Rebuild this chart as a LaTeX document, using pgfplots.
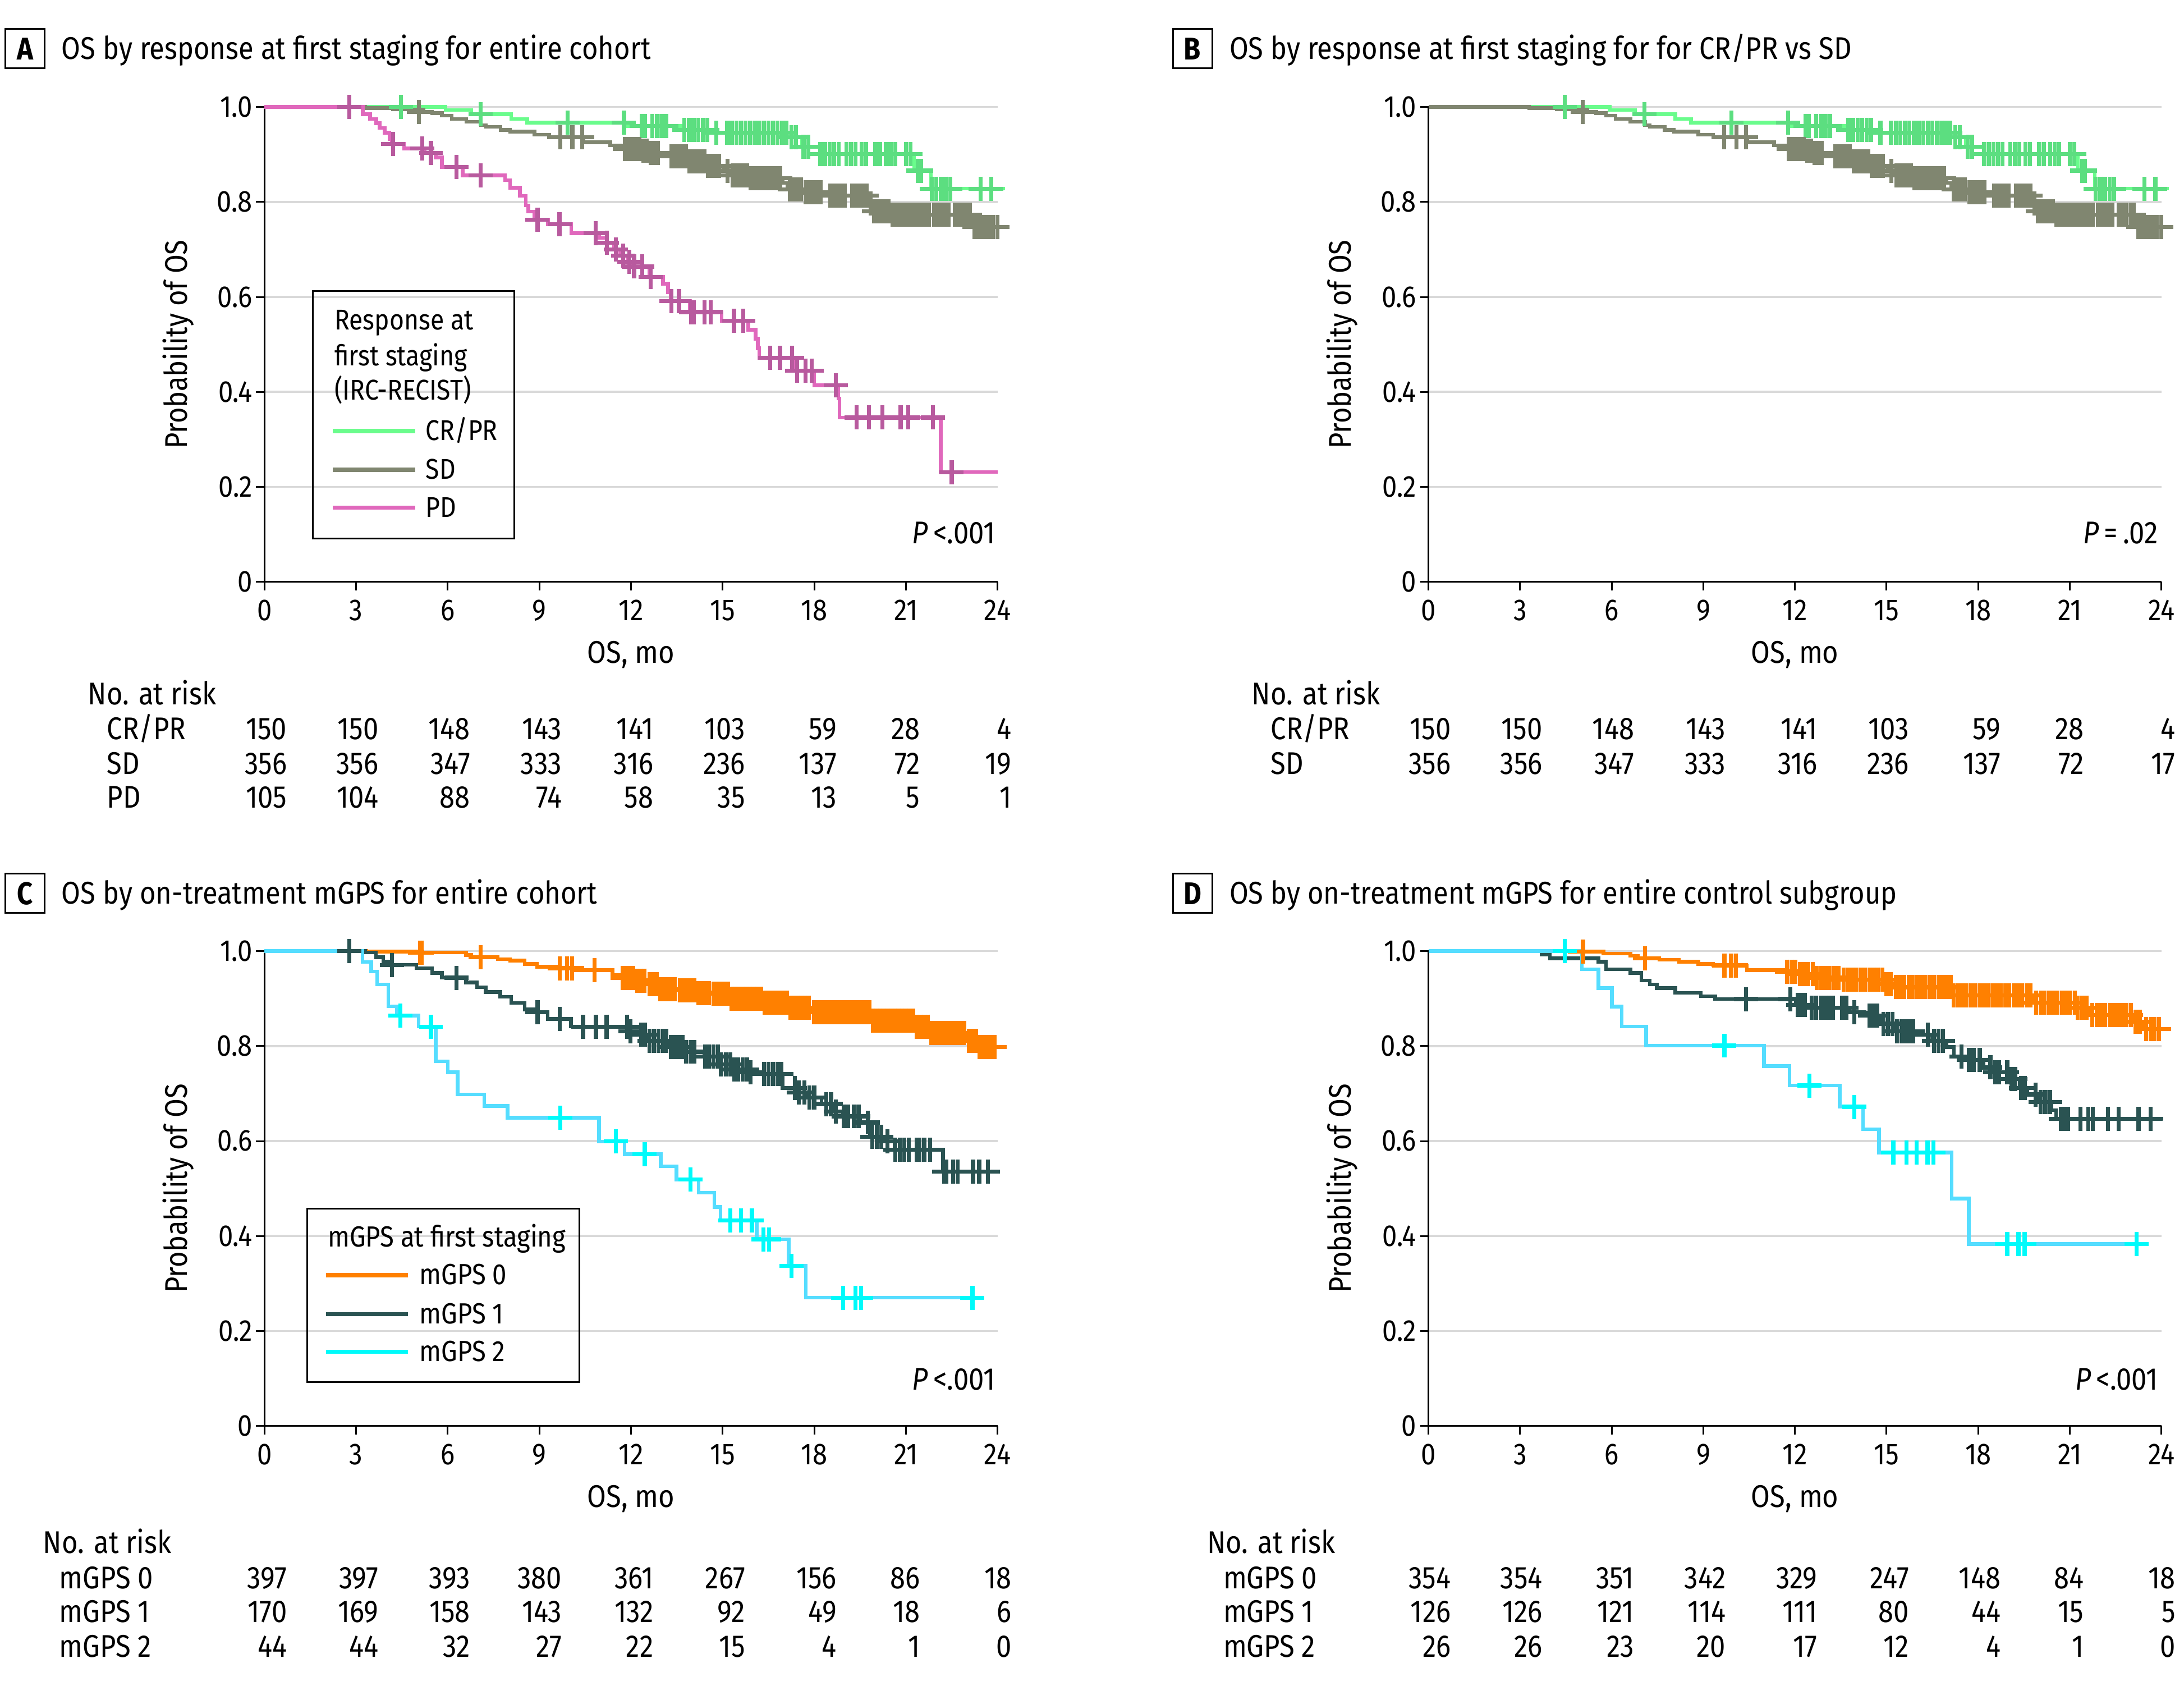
\documentclass[border=0pt]{standalone}
\usepackage{fontspec}
\setmainfont{Fira Sans}[FakeStretch=0.875]
\usepackage{pgfplots}
\usepackage{pgfplotstable}
\pgfplotsset{compat=1.18}

\definecolor{crpr}{RGB}{106,252,140}
\definecolor{crprc}{RGB}{92,222,128}
\definecolor{sdc}{RGB}{128,134,112}
\definecolor{pdl}{RGB}{224,104,188}
\definecolor{pdc}{RGB}{184,90,158}
\definecolor{gz}{RGB}{255,128,0}
\definecolor{go}{RGB}{42,83,82}
\definecolor{gtl}{RGB}{85,221,255}
\definecolor{gtc}{RGB}{0,250,250}
\definecolor{gridc}{RGB}{217,217,217}

\newcommand\mainsize{\fontsize{11.2}{13.4}\selectfont}
\newcommand\ticksize{\fontsize{10.8}{12.8}\selectfont}
\newcommand\smallsize{\fontsize{10.2}{12.2}\selectfont}
\newcommand\legsize{\fontsize{10.4}{12.4}\selectfont}

% ---- A/B: response at first staging ----
\pgfplotstableread[row sep=\\]{t s\\
0 1\\ 5.93 0.994\\ 6.77 0.985\\ 8.08 0.975\\ 8.6 0.967\\ 11.9 0.96\\ 13.7 0.952\\ 14.8 0.946\\
17.1 0.936\\ 17.6 0.916\\ 18.2 0.901\\ 21.27 0.866\\ 21.82 0.828\\ 24.25 0.828\\}\KMcrpr
\pgfplotstableread[row sep=\\]{t s\\
4.47 1\\ 7.07 0.985\\ 9.92 0.967\\ 11.77 0.967\\
12.35 0.96\\ 12.45 0.96\\ 12.7 0.96\\ 12.85 0.96\\ 13.0 0.96\\ 13.15 0.96\\
13.75 0.952\\ 13.9 0.952\\ 14.05 0.952\\ 14.2 0.952\\ 14.35 0.952\\ 14.5 0.952\\
14.8 0.946\\ 15.15 0.946\\ 15.3 0.946\\ 15.45 0.946\\ 15.6 0.946\\ 15.75 0.946\\ 15.9 0.946\\ 16.05 0.946\\
16.2 0.946\\ 16.35 0.946\\ 16.5 0.946\\ 16.65 0.946\\ 16.8 0.946\\ 16.95 0.946\\ 17.08 0.946\\
17.25 0.936\\ 17.4 0.936\\ 17.65 0.916\\ 17.8 0.916\\
18.2 0.901\\ 18.35 0.901\\ 18.5 0.901\\ 18.65 0.901\\ 18.8 0.901\\ 19.05 0.901\\ 19.2 0.901\\ 19.35 0.901\\
19.55 0.901\\ 19.7 0.901\\ 20.0 0.901\\ 20.15 0.901\\ 20.35 0.901\\ 20.5 0.901\\ 20.65 0.901\\ 21.0 0.901\\ 21.15 0.901\\
21.4 0.866\\ 21.5 0.866\\
21.85 0.828\\ 22.0 0.828\\ 22.15 0.828\\ 22.3 0.828\\ 22.45 0.828\\ 23.45 0.828\\ 23.8 0.828\\}\CNcrpr
\pgfplotstableread[row sep=\\]{t s\\
0 1\\ 3.3 0.998\\ 4.21 0.995\\ 5.2 0.99\\ 5.49 0.987\\ 5.81 0.982\\ 6.13 0.975\\ 6.61 0.969\\ 7.09 0.962\\
7.25 0.958\\ 7.73 0.952\\ 8.04 0.948\\ 8.84 0.942\\ 9.32 0.936\\ 10.44 0.926\\ 11.32 0.919\\ 11.8 0.912\\
12.3 0.908\\ 12.57 0.903\\ 13.29 0.896\\ 13.89 0.886\\ 14.41 0.876\\ 15.05 0.866\\ 15.29 0.856\\ 15.84 0.85\\
16.96 0.84\\ 17.12 0.826\\ 17.68 0.82\\ 18.47 0.813\\ 19.75 0.797\\ 19.91 0.78\\ 20.47 0.773\\ 23.18 0.747\\ 24.3 0.747\\}\KMsd
\pgfplotstableread[row sep=\\]{t s\\
5.05 0.99\\ 9.68 0.936\\ 10.08 0.936\\ 10.4 0.936\\
11.8 0.912\\ 11.92 0.912\\ 12.04 0.912\\ 12.16 0.912\\ 12.28 0.912\\ 12.4 0.908\\ 12.52 0.908\\
12.64 0.903\\ 12.76 0.903\\ 12.88 0.903\\ 13.32 0.896\\ 13.44 0.896\\ 13.56 0.896\\ 13.68 0.896\\ 13.8 0.896\\
13.92 0.886\\ 14.04 0.886\\ 14.16 0.886\\ 14.28 0.886\\ 14.4 0.886\\ 14.52 0.876\\ 14.64 0.876\\ 14.76 0.876\\ 14.88 0.876\\
15.16 0.866\\ 15.32 0.856\\ 15.44 0.856\\ 15.56 0.856\\ 15.68 0.856\\ 15.8 0.856\\
15.92 0.85\\ 16.04 0.85\\ 16.16 0.85\\ 16.28 0.85\\ 16.4 0.85\\ 16.52 0.85\\ 16.64 0.85\\ 16.76 0.85\\ 16.88 0.85\\
17.2 0.826\\ 17.32 0.826\\ 17.44 0.826\\ 17.56 0.826\\ 17.72 0.82\\ 17.84 0.82\\ 17.96 0.82\\ 18.08 0.82\\ 18.2 0.82\\
18.52 0.813\\ 18.64 0.813\\ 18.76 0.813\\ 18.88 0.813\\ 19.0 0.813\\ 19.24 0.813\\ 19.36 0.813\\ 19.48 0.813\\ 19.6 0.813\\ 19.72 0.813\\
19.84 0.797\\ 19.96 0.78\\ 20.08 0.78\\ 20.2 0.78\\ 20.32 0.78\\ 20.44 0.78\\
20.56 0.773\\ 20.68 0.773\\ 20.8 0.773\\ 20.92 0.773\\ 21.04 0.773\\ 21.16 0.773\\ 21.28 0.773\\ 21.4 0.773\\
21.52 0.773\\ 21.64 0.773\\ 21.76 0.773\\ 21.92 0.773\\ 22.04 0.773\\ 22.16 0.773\\ 22.28 0.773\\ 22.4 0.773\\
22.6 0.773\\ 22.72 0.773\\ 22.84 0.773\\ 22.98 0.773\\ 23.1 0.773\\
23.24 0.747\\ 23.36 0.747\\ 23.48 0.747\\ 23.6 0.747\\ 23.72 0.747\\ 23.84 0.747\\ 24.0 0.747\\}\CNsd
\pgfplotstableread[row sep=\\]{t s\\
0 1\\ 3.22 0.985\\ 3.46 0.975\\ 3.66 0.966\\ 3.77 0.956\\ 3.93 0.946\\ 4.09 0.932\\ 4.17 0.922\\ 4.57 0.913\\
5.25 0.903\\ 5.61 0.894\\ 5.81 0.874\\ 6.49 0.856\\ 7.88 0.846\\ 8.04 0.83\\ 8.36 0.813\\ 8.56 0.793\\ 8.64 0.78\\
8.84 0.763\\ 9.28 0.753\\ 10.04 0.734\\ 10.96 0.724\\ 11.2 0.714\\ 11.44 0.7\\ 11.64 0.687\\ 11.88 0.674\\
12.04 0.664\\ 12.6 0.642\\ 13.05 0.628\\ 13.21 0.61\\ 13.3 0.591\\ 13.93 0.568\\ 14.97 0.55\\ 15.84 0.531\\
16.08 0.512\\ 16.15 0.492\\ 16.2 0.472\\ 17.36 0.445\\ 18.0 0.414\\ 18.79 0.386\\ 18.83 0.346\\ 22.14 0.231\\ 24.0 0.231\\}\KMpd
\pgfplotstableread[row sep=\\]{t s\\
2.78 1\\ 4.21 0.922\\ 5.16 0.913\\ 5.45 0.903\\ 6.29 0.874\\ 7.07 0.856\\ 8.94 0.763\\ 9.66 0.753\\
10.84 0.734\\ 11.21 0.714\\ 11.5 0.7\\ 11.75 0.687\\ 11.95 0.674\\ 12.1 0.664\\ 12.37 0.664\\ 12.65 0.642\\
13.33 0.591\\ 13.57 0.591\\ 13.97 0.568\\ 14.05 0.568\\ 14.41 0.568\\ 14.61 0.568\\ 15.37 0.55\\ 15.68 0.55\\
16.56 0.472\\ 16.88 0.472\\ 17.28 0.472\\ 17.44 0.445\\ 17.72 0.445\\ 17.92 0.445\\ 18.71 0.414\\
19.39 0.346\\ 19.79 0.346\\ 20.23 0.346\\ 20.83 0.346\\ 21.07 0.346\\ 21.88 0.346\\ 22.5 0.231\\}\CNpd

% ---- C: mGPS, entire cohort ----
\pgfplotstableread[row sep=\\]{t s\\
0 1\\ 3.33 0.999\\ 5.17 0.997\\ 6.6 0.992\\ 6.76 0.987\\ 7.64 0.983\\ 8.04 0.98\\ 8.52 0.973\\ 8.92 0.967\\
9.63 0.964\\ 10.19 0.96\\ 11.39 0.95\\ 11.71 0.944\\ 12.1 0.938\\ 12.57 0.93\\ 12.89 0.92\\ 13.57 0.917\\
14.17 0.912\\ 14.65 0.91\\ 15.21 0.9\\ 16.32 0.891\\ 17.12 0.881\\ 17.92 0.871\\ 19.83 0.854\\ 21.27 0.841\\
21.75 0.828\\ 23.02 0.811\\ 23.34 0.798\\ 24.3 0.798\\}\KMcz
\pgfplotstableread[row sep=\\]{t s\\
5.09 0.997\\ 5.15 0.997\\ 7.07 0.987\\ 9.67 0.964\\ 9.9 0.964\\ 10.07 0.964\\ 10.81 0.96\\
11.72 0.944\\ 11.84 0.944\\ 11.96 0.944\\ 12.08 0.944\\ 12.2 0.938\\ 12.32 0.938\\ 12.44 0.938\\
12.6 0.93\\ 12.72 0.93\\ 12.84 0.93\\ 12.96 0.92\\ 13.08 0.92\\ 13.2 0.92\\ 13.32 0.92\\ 13.44 0.92\\
13.6 0.917\\ 13.72 0.917\\ 13.84 0.917\\ 13.96 0.917\\ 14.08 0.917\\ 14.2 0.912\\ 14.32 0.912\\ 14.44 0.912\\ 14.56 0.912\\
14.7 0.91\\ 14.82 0.91\\ 14.94 0.91\\ 15.06 0.91\\ 15.18 0.91\\
15.3 0.9\\ 15.42 0.9\\ 15.54 0.9\\ 15.66 0.9\\ 15.78 0.9\\ 15.9 0.9\\ 16.02 0.9\\ 16.14 0.9\\ 16.26 0.9\\
16.38 0.891\\ 16.5 0.891\\ 16.62 0.891\\ 16.74 0.891\\ 16.86 0.891\\ 16.98 0.891\\ 17.1 0.891\\
17.22 0.881\\ 17.34 0.881\\ 17.46 0.881\\ 17.58 0.881\\ 17.7 0.881\\ 17.82 0.881\\
18.0 0.871\\ 18.12 0.871\\ 18.24 0.871\\ 18.36 0.871\\ 18.48 0.871\\ 18.6 0.871\\ 18.72 0.871\\ 18.84 0.871\\
18.96 0.871\\ 19.08 0.871\\ 19.2 0.871\\ 19.32 0.871\\ 19.44 0.871\\ 19.56 0.871\\ 19.68 0.871\\ 19.8 0.871\\
19.92 0.854\\ 20.04 0.854\\ 20.16 0.854\\ 20.28 0.854\\ 20.4 0.854\\ 20.52 0.854\\ 20.64 0.854\\ 20.76 0.854\\
20.88 0.854\\ 21.0 0.854\\ 21.12 0.854\\ 21.24 0.854\\ 21.36 0.841\\ 21.48 0.841\\ 21.6 0.841\\ 21.72 0.841\\
21.84 0.828\\ 21.96 0.828\\ 22.08 0.828\\ 22.2 0.828\\ 22.32 0.828\\ 22.44 0.828\\ 22.56 0.828\\ 22.68 0.828\\
22.8 0.828\\ 22.92 0.828\\ 23.06 0.811\\ 23.18 0.811\\ 23.3 0.811\\
23.42 0.798\\ 23.54 0.798\\ 23.66 0.798\\ 23.78 0.798\\ 23.9 0.798\\}\CNcz
\pgfplotstableread[row sep=\\]{t s\\
0 1\\ 3.29 0.997\\ 3.65 0.987\\ 3.89 0.978\\ 4.09 0.971\\ 4.97 0.964\\ 5.49 0.954\\ 5.81 0.944\\ 6.6 0.934\\
6.96 0.924\\ 7.24 0.914\\ 7.72 0.904\\ 8.08 0.891\\ 8.52 0.877\\ 8.84 0.871\\ 9.27 0.857\\ 10.03 0.841\\
11.95 0.831\\ 12.02 0.824\\ 12.49 0.811\\ 13.29 0.798\\ 13.69 0.788\\ 14.41 0.778\\ 14.89 0.761\\ 15.29 0.751\\
15.92 0.745\\ 16.32 0.741\\ 16.96 0.712\\ 17.44 0.702\\ 17.76 0.692\\ 18.24 0.678\\ 18.63 0.662\\ 18.95 0.652\\
19.51 0.639\\ 19.83 0.609\\ 20.31 0.599\\ 20.63 0.582\\ 22.22 0.536\\ 24.06 0.536\\}\KMco
\pgfplotstableread[row sep=\\]{t s\\
2.78 1\\ 4.17 0.971\\ 6.28 0.944\\ 8.94 0.871\\ 9.67 0.857\\ 10.43 0.841\\ 10.85 0.841\\ 11.2 0.841\\
11.87 0.841\\ 11.98 0.831\\ 12.33 0.824\\ 12.45 0.824\\ 12.6 0.811\\ 12.75 0.811\\ 12.9 0.811\\ 13.05 0.811\\
13.15 0.811\\ 13.3 0.798\\ 13.42 0.798\\ 13.55 0.798\\ 13.68 0.798\\ 13.8 0.788\\ 13.95 0.788\\ 14.08 0.788\\
14.42 0.778\\ 14.55 0.778\\ 14.7 0.778\\ 14.85 0.778\\ 14.95 0.761\\ 15.1 0.761\\ 15.25 0.761\\
15.38 0.751\\ 15.5 0.751\\ 15.65 0.751\\ 15.8 0.751\\ 15.92 0.745\\
16.35 0.741\\ 16.5 0.741\\ 16.65 0.741\\ 16.8 0.741\\ 16.93 0.741\\ 17.36 0.712\\ 17.5 0.702\\ 17.68 0.702\\
17.85 0.692\\ 18.0 0.692\\ 18.4 0.678\\ 18.55 0.678\\ 18.7 0.662\\ 18.97 0.652\\ 19.1 0.652\\ 19.3 0.652\\ 19.45 0.652\\
19.75 0.639\\ 19.9 0.609\\ 20.05 0.609\\ 20.2 0.609\\ 20.4 0.599\\ 20.65 0.582\\ 20.8 0.582\\ 20.95 0.582\\ 21.1 0.582\\
21.35 0.582\\ 21.45 0.582\\ 21.6 0.582\\ 21.8 0.582\\ 22.25 0.536\\ 22.32 0.536\\ 22.55 0.536\\ 22.7 0.536\\
23.2 0.536\\ 23.4 0.536\\ 23.68 0.536\\}\CNco
\pgfplotstableread[row sep=\\]{t s\\
0 1\\ 3.21 0.977\\ 3.49 0.957\\ 3.69 0.93\\ 4.05 0.884\\ 4.33 0.864\\ 5.05 0.841\\ 5.61 0.768\\ 6.0 0.745\\
6.32 0.698\\ 7.2 0.674\\ 7.96 0.649\\ 10.95 0.599\\ 11.79 0.572\\ 12.97 0.547\\ 13.49 0.519\\ 14.21 0.491\\
14.73 0.461\\ 14.93 0.433\\ 16.12 0.393\\ 17.16 0.337\\ 17.72 0.27\\ 23.54 0.27\\}\KMct
\pgfplotstableread[row sep=\\]{t s\\
4.45 0.864\\ 5.45 0.841\\ 9.69 0.649\\ 11.5 0.599\\ 12.45 0.572\\ 13.95 0.519\\ 15.25 0.433\\ 15.6 0.433\\
15.96 0.433\\ 16.34 0.393\\ 16.52 0.393\\ 17.26 0.337\\ 18.95 0.27\\ 19.35 0.27\\ 19.53 0.27\\ 23.18 0.27\\}\CNct

% ---- D: mGPS, control subgroup ----
\pgfplotstableread[row sep=\\]{t s\\
0 1\\ 4.62 0.999\\ 5.73 0.995\\ 6.61 0.99\\ 6.85 0.985\\ 7.56 0.982\\ 8.2 0.978\\ 8.84 0.973\\ 9.32 0.97\\
10.43 0.96\\ 11.7 0.957\\ 12.12 0.952\\ 12.6 0.944\\ 13.55 0.94\\ 14.9 0.93\\ 15.22 0.924\\ 17.13 0.907\\
19.84 0.891\\ 21.19 0.881\\ 21.67 0.865\\ 23.1 0.851\\ 23.42 0.836\\ 24.3 0.836\\}\KMdz
\pgfplotstableread[row sep=\\]{t s\\
5.06 0.999\\ 7.09 0.985\\ 9.69 0.97\\ 9.91 0.97\\ 10.07 0.97\\ 11.74 0.957\\ 11.88 0.957\\ 12.02 0.957\\
12.16 0.952\\ 12.3 0.952\\ 12.44 0.952\\ 12.58 0.952\\ 12.72 0.944\\ 12.86 0.944\\ 13.0 0.944\\ 13.14 0.944\\
13.28 0.944\\ 13.42 0.944\\ 13.6 0.94\\ 13.74 0.94\\ 13.88 0.94\\ 14.02 0.94\\ 14.16 0.94\\ 14.3 0.94\\
14.44 0.94\\ 14.58 0.94\\ 14.72 0.94\\ 14.86 0.94\\ 15.0 0.93\\ 15.14 0.93\\
15.3 0.924\\ 15.44 0.924\\ 15.58 0.924\\ 15.72 0.924\\ 15.86 0.924\\ 16.0 0.924\\ 16.14 0.924\\ 16.28 0.924\\
16.42 0.924\\ 16.56 0.924\\ 16.7 0.924\\ 16.84 0.924\\ 16.98 0.924\\ 17.1 0.924\\
17.2 0.907\\ 17.34 0.907\\ 17.48 0.907\\ 17.62 0.907\\ 17.76 0.907\\ 17.9 0.907\\ 18.04 0.907\\ 18.18 0.907\\
18.32 0.907\\ 18.46 0.907\\ 18.6 0.907\\ 18.74 0.907\\ 18.88 0.907\\ 19.02 0.907\\ 19.16 0.907\\ 19.3 0.907\\
19.44 0.907\\ 19.58 0.907\\ 19.72 0.907\\ 19.9 0.891\\ 20.04 0.891\\ 20.18 0.891\\ 20.32 0.891\\ 20.46 0.891\\
20.6 0.891\\ 20.74 0.891\\ 20.88 0.891\\ 21.02 0.891\\ 21.16 0.891\\ 21.26 0.881\\ 21.4 0.881\\ 21.54 0.881\\
21.74 0.865\\ 21.88 0.865\\ 22.02 0.865\\ 22.16 0.865\\ 22.3 0.865\\ 22.44 0.865\\ 22.58 0.865\\ 22.72 0.865\\
22.86 0.865\\ 23.0 0.865\\ 23.16 0.851\\ 23.3 0.851\\ 23.5 0.836\\ 23.64 0.836\\ 23.78 0.836\\ 23.92 0.836\\}\CNdz
\pgfplotstableread[row sep=\\]{t s\\
0 1\\ 3.7 0.993\\ 3.98 0.985\\ 5.57 0.978\\ 5.81 0.962\\ 6.61 0.954\\ 6.97 0.938\\ 7.25 0.93\\ 7.48 0.922\\
8.08 0.912\\ 8.92 0.905\\ 9.39 0.899\\ 12.02 0.887\\ 12.44 0.881\\ 13.79 0.871\\ 14.35 0.864\\ 14.82 0.847\\
15.3 0.831\\ 15.94 0.824\\ 16.5 0.811\\ 16.97 0.798\\ 17.21 0.778\\ 17.53 0.771\\ 18.17 0.755\\ 18.48 0.745\\
18.96 0.731\\ 19.36 0.712\\ 19.6 0.698\\ 19.92 0.682\\ 20.39 0.665\\ 20.55 0.647\\ 24.05 0.647\\}\KMdo
\pgfplotstableread[row sep=\\]{t s\\
10.4 0.899\\ 11.85 0.899\\ 12.1 0.887\\ 12.2 0.887\\ 12.32 0.887\\ 12.55 0.881\\ 12.7 0.881\\ 12.85 0.881\\
13.0 0.881\\ 13.12 0.881\\ 13.25 0.881\\ 13.55 0.881\\ 13.68 0.881\\ 13.95 0.871\\ 14.45 0.864\\ 14.58 0.864\\
14.7 0.864\\ 14.9 0.847\\ 15.05 0.847\\ 15.2 0.847\\ 15.35 0.831\\ 15.5 0.831\\ 15.62 0.831\\ 15.75 0.831\\
15.88 0.831\\ 16.35 0.824\\ 16.55 0.811\\ 16.7 0.811\\ 16.85 0.811\\ 17.45 0.778\\ 17.7 0.771\\ 17.85 0.771\\
18.05 0.771\\ 18.4 0.755\\ 18.55 0.745\\ 18.68 0.745\\ 18.95 0.745\\ 19.1 0.731\\ 19.22 0.731\\ 19.4 0.712\\
19.52 0.712\\ 19.88 0.698\\ 20.05 0.682\\ 20.2 0.682\\ 20.35 0.682\\ 20.7 0.647\\ 20.82 0.647\\ 20.95 0.647\\
21.35 0.647\\ 21.6 0.647\\ 21.75 0.647\\ 22.25 0.647\\ 22.6 0.647\\ 23.25 0.647\\ 23.65 0.647\\}\CNdo
\pgfplotstableread[row sep=\\]{t s\\
0 1\\ 5.02 0.962\\ 5.57 0.922\\ 6.01 0.883\\ 6.33 0.841\\ 7.13 0.801\\ 10.99 0.758\\ 11.82 0.717\\
13.47 0.672\\ 14.23 0.625\\ 14.75 0.576\\ 17.13 0.479\\ 17.69 0.383\\ 23.54 0.383\\}\KMdt
\pgfplotstableread[row sep=\\]{t s\\
4.46 1\\ 9.69 0.801\\ 12.48 0.717\\ 13.95 0.672\\ 15.22 0.576\\ 15.66 0.576\\ 15.98 0.576\\ 16.34 0.576\\
16.53 0.576\\ 18.95 0.383\\ 19.32 0.383\\ 19.52 0.383\\ 23.18 0.383\\}\CNdt

\pgfplotsset{
  km/.style={
    scale only axis, width=261.6pt, height=169.4pt, anchor=south west,
    xmin=0, xmax=24, ymin=0, ymax=1,
    xtick={0,3,6,9,12,15,18,21,24}, xticklabels={0,3,6,9,12,15,18,21,24},
    ytick={0,0.2,0.4,0.6,0.8,1}, yticklabels={0,0.2,0.4,0.6,0.8,1.0},
    axis lines=left, axis line style={-, line width=0.6pt},
    tick align=outside, major tick length=3pt, tick style={black, line width=0.6pt},
    ymajorgrids, grid style={draw=gridc, line width=0.7pt},
    tick label style={font=\ticksize},
    yticklabel style={xshift=2.2pt},
    label style={font=\mainsize},
    xlabel={OS, mo}, ylabel={Probability of OS},
    xlabel style={at={(axis description cs:0.5,-0.154)}, anchor=center},
    ylabel style={at={(axis description cs:-0.118,0.5)}, anchor=center},
    clip=false,
  },
  kmline/.style={const plot, no markers, line width=1.3pt},
  kmcens/.style={only marks, mark=+, mark size=4.3pt, mark options={line width=1.45pt}},
}

% one row of the numbers at risk: axis left (px), baseline (px), nine values
\newcommand\riskrow[3]{%
  \foreach \v [count=\i from 0] in {#3}{%
    \pgfmathsetmacro\off{(\i<7) ? (41+163.5*\i) : (26+163.5*\i)}%
    \node[anchor=base east, font=\mainsize, inner sep=0pt] at ({#1+\off},#2) {\v};}}
\newcommand\risklabel[3]{\node[anchor=base west, inner sep=0pt, font=\mainsize] at (#1,#2) {#3};}

\begin{document}
\begin{tikzpicture}
\path (0,0) rectangle (778.4pt,601.6pt);

% A
\begin{axis}[km, at={(94.4pt,394pt)}]
\addplot[kmline, crpr] table[x=t,y=s]{\KMcrpr};
\addplot[kmline, sdc] table[x=t,y=s]{\KMsd};
\addplot[kmline, pdl] table[x=t,y=s]{\KMpd};
\addplot[kmcens, crprc] table[x=t,y=s]{\CNcrpr};
\addplot[kmcens, sdc] table[x=t,y=s]{\CNsd};
\addplot[kmcens, pdc] table[x=t,y=s]{\CNpd};
\end{axis}

% B
\begin{axis}[km, at={(509.8pt,394pt)}]
\addplot[kmline, crpr] table[x=t,y=s]{\KMcrpr};
\addplot[kmline, sdc] table[x=t,y=s]{\KMsd};
\addplot[kmcens, crprc] table[x=t,y=s]{\CNcrpr};
\addplot[kmcens, sdc] table[x=t,y=s]{\CNsd};
\end{axis}

% C
\begin{axis}[km, at={(94.4pt,92.8pt)}]
\addplot[kmline, gz] table[x=t,y=s]{\KMcz};
\addplot[kmline, go] table[x=t,y=s]{\KMco};
\addplot[kmline, gtl] table[x=t,y=s]{\KMct};
\addplot[kmcens, gz] table[x=t,y=s]{\CNcz};
\addplot[kmcens, go] table[x=t,y=s]{\CNco};
\addplot[kmcens, gtc] table[x=t,y=s]{\CNct};
\end{axis}

% D
\begin{axis}[km, at={(509.8pt,92.8pt)}]
\addplot[kmline, gz] table[x=t,y=s]{\KMdz};
\addplot[kmline, go] table[x=t,y=s]{\KMdo};
\addplot[kmline, gtl] table[x=t,y=s]{\KMdt};
\addplot[kmcens, gz] table[x=t,y=s]{\CNdz};
\addplot[kmcens, go] table[x=t,y=s]{\CNdo};
\addplot[kmcens, gtc] table[x=t,y=s]{\CNdt};
\end{axis}

% annotations, in pixel units of the reference (y downwards)
\begin{scope}[x=0.2pt, y=-0.2pt, shift={(0pt,601.6pt)}]
  \foreach \bx/\by/\lab/\tx in {45/87/A/109, 2128/87/B/2193, 45/1594/C/109, 2128/1594/D/2193}{
    \node[draw, line width=0.6pt, minimum width=14pt, minimum height=14pt, inner sep=0pt,
          font=\mainsize\bfseries] at (\bx,\by) {\lab};}
  \node[anchor=base west, inner sep=0pt, font=\mainsize] at (109,106) {OS by response at first staging for entire cohort};
  \node[anchor=base west, inner sep=0pt, font=\mainsize] at (2193,106) {OS by response at first staging for for CR/PR vs SD};
  \node[anchor=base west, inner sep=0pt, font=\mainsize] at (109,1613) {OS by on-treatment mGPS for entire cohort};
  \node[anchor=base west, inner sep=0pt, font=\mainsize] at (2193,1613) {OS by on-treatment mGPS for entire control subgroup};

  % P values
  \node[anchor=base east, inner sep=0pt, font=\mainsize] at (1777,970) {\textit{P}\,<.001};
  \node[anchor=base east, inner sep=0pt, font=\mainsize] at (3852,970) {\textit{P}\,=\,.02};
  \node[anchor=base east, inner sep=0pt, font=\mainsize] at (1777,2480) {\textit{P}\,<.001};
  \node[anchor=base east, inner sep=0pt, font=\mainsize] at (3852,2480) {\textit{P}\,<.001};

  % legend A
  \draw[line width=0.6pt] (558,519) rectangle (918,961);
  \node[anchor=base west, inner sep=0pt, font=\smallsize] at (596,588) {Response at};
  \node[anchor=base west, inner sep=0pt, font=\smallsize] at (596,652) {first staging};
  \node[anchor=base west, inner sep=0pt, font=\smallsize] at (596,714) {(IRC-RECIST)};
  \draw[crpr, line width=1.5pt] (594,769) -- (741,769);
  \draw[sdc, line width=1.5pt] (594,838) -- (741,838);
  \draw[pdl, line width=1.5pt] (594,906) -- (741,906);
  \node[anchor=base west, inner sep=0pt, font=\smallsize] at (759,786) {CR/PR};
  \node[anchor=base west, inner sep=0pt, font=\smallsize] at (759,855) {SD};
  \node[anchor=base west, inner sep=0pt, font=\smallsize] at (759,923) {PD};

  % legend C
  \draw[line width=0.6pt] (548,2156) rectangle (1034,2466);
  \node[anchor=base west, inner sep=0pt, font=\legsize] at (584,2225) {mGPS at first staging};
  \draw[gz, line width=1.5pt] (582,2275) -- (728,2275);
  \draw[go, line width=1.5pt] (582,2345) -- (728,2345);
  \draw[gtc, line width=1.5pt] (582,2412) -- (728,2412);
  \node[anchor=base west, inner sep=0pt, font=\legsize] at (748,2292) {mGPS 0};
  \node[anchor=base west, inner sep=0pt, font=\legsize] at (748,2362) {mGPS 1};
  \node[anchor=base west, inner sep=0pt, font=\legsize] at (748,2429) {mGPS 2};

  % numbers at risk, A
  \risklabel{156}{1257}{No. at risk}
  \risklabel{190}{1319}{CR/PR}
  \risklabel{190}{1381}{SD}
  \risklabel{190}{1442}{PD}
  \riskrow{472}{1319}{150,150,148,143,141,103,59,28,4}
  \riskrow{472}{1381}{356,356,347,333,316,236,137,72,19}
  \riskrow{472}{1442}{105,104,88,74,58,35,13,5,1}
  % B
  \risklabel{2233}{1257}{No. at risk}
  \risklabel{2267}{1319}{CR/PR}
  \risklabel{2267}{1381}{SD}
  \riskrow{2549}{1319}{150,150,148,143,141,103,59,28,4}
  \riskrow{2549}{1381}{356,356,347,333,316,236,137,72,17}
  % C
  \risklabel{76}{2771}{No. at risk}
  \risklabel{105}{2834}{mGPS 0}
  \risklabel{105}{2895}{mGPS 1}
  \risklabel{105}{2957}{mGPS 2}
  \riskrow{472}{2834}{397,397,393,380,361,267,156,86,18}
  \riskrow{472}{2895}{170,169,158,143,132,92,49,18,6}
  \riskrow{472}{2957}{44,44,32,27,22,15,4,1,0}
  % D
  \risklabel{2153}{2771}{No. at risk}
  \risklabel{2182}{2834}{mGPS 0}
  \risklabel{2182}{2895}{mGPS 1}
  \risklabel{2182}{2957}{mGPS 2}
  \riskrow{2549}{2834}{354,354,351,342,329,247,148,84,18}
  \riskrow{2549}{2895}{126,126,121,114,111,80,44,15,5}
  \riskrow{2549}{2957}{26,26,23,20,17,12,4,1,0}
\end{scope}
\end{tikzpicture}
\end{document}
